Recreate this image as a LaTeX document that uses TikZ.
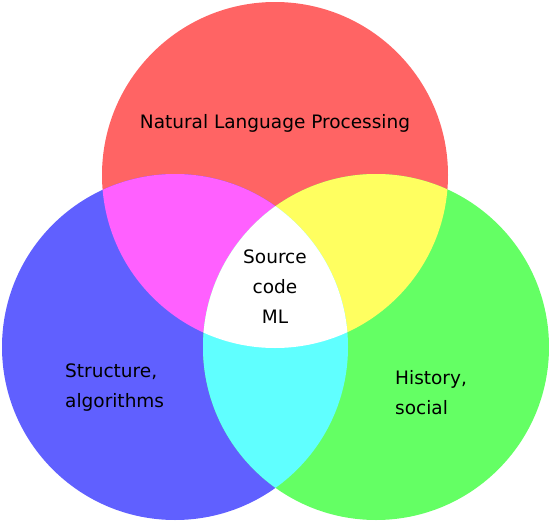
\documentclass[tikz,border=0pt]{standalone}
\usepackage{fontspec}
\setmainfont{DejaVu Sans}
\definecolor{vred}{RGB}{255,100,100}
\definecolor{vblue}{RGB}{96,96,255}
\definecolor{vgreen}{RGB}{100,255,100}
\definecolor{vmagenta}{RGB}{255,96,255}
\definecolor{vyellow}{RGB}{255,255,96}
\definecolor{vcyan}{RGB}{96,255,255}

\begin{document}
\begin{tikzpicture}[
    x=1pt,
    y=-1pt,
    vtext/.style={font=\fontsize{18.5}{30}\selectfont,inner sep=0pt},
    declare function={vrad=173;}
]
\useasboundingbox (0,0) rectangle (549,522);
% circle centres
\coordinate (R) at (275,175);
\coordinate (B) at (175,347);
\coordinate (G) at (376,347);

\fill[vred] (R) circle[radius=vrad*1pt];
\fill[vblue] (B) circle[radius=vrad*1pt];
\fill[vgreen] (G) circle[radius=vrad*1pt];

% pairwise overlaps
\begin{scope}
  \clip (R) circle[radius=vrad*1pt];
  \fill[vmagenta] (B) circle[radius=vrad*1pt];
  \fill[vyellow] (G) circle[radius=vrad*1pt];
\end{scope}
\begin{scope}
  \clip (B) circle[radius=vrad*1pt];
  \fill[vcyan] (G) circle[radius=vrad*1pt];
\end{scope}
% all three
\begin{scope}
  \clip (R) circle[radius=vrad*1pt];
  \clip (B) circle[radius=vrad*1pt];
  \fill[white] (G) circle[radius=vrad*1pt];
\end{scope}

\node[vtext] (nlp) at (275,123) {Natural Language Processing};
\node[vtext,align=center] (src) at (275,287) {Source\\code\\ML};
\node[vtext,align=left,anchor=west] (struct) at (65,388) {Structure,\\algorithms};
\node[vtext,align=left,anchor=west] (hist) at (395,393) {History,\\social};

\end{tikzpicture}
\end{document}
